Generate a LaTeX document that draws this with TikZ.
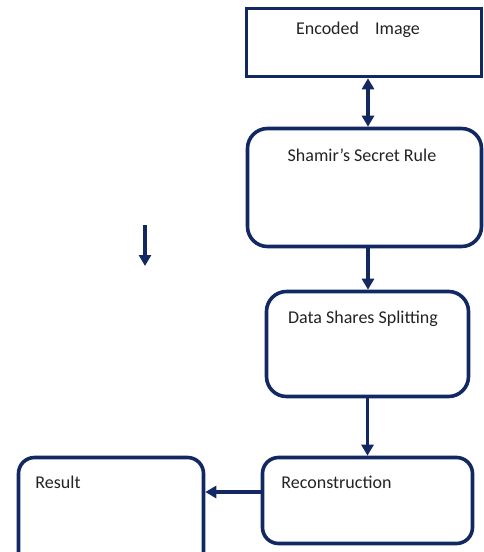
\documentclass[tikz,border=0pt]{standalone}
\usepackage{fontspec}
\setmainfont{Carlito}
\usetikzlibrary{arrows.meta,positioning}
\definecolor{navy}{RGB}{18,40,98}
\definecolor{txt}{RGB}{35,35,35}

\begin{document}
\begin{tikzpicture}[x=1pt, y=-1pt, >={Triangle[length=11pt,width=12pt]},
  box/.style={draw=navy, line width=3.6pt, minimum width=#1, inner sep=0pt},
  lbl/.style={text=txt, font=\fontsize{18}{21}\selectfont, inner sep=0pt},
  arr/.style={->, draw=navy, line width=3.4pt}]
  \useasboundingbox (0,0) rectangle (484,552);
  \clip (0,0) rectangle (484,552);

  % Encoded image (plain box)
  \node[box=235pt, minimum height=68pt] (enc) at (364,42.5) {};
  \node[lbl] (enct) at (358,30) {Encoded\hspace{16pt}Image};

  % Shamir's rule
  \node[box=234pt, minimum height=118pt, rounded corners=20pt] (sham) at (364.5,187.5) {};
  \node[lbl] (shamt) at (362,155) {Shamir’s Secret Rule};

  % Data shares
  \node[box=202pt, minimum height=105pt, rounded corners=20pt] (split) at (367.5,344) {};
  \node[lbl] (splitt) at (363,319) {Data Shares Splitting};

  % Reconstruction
  \node[box=210pt, minimum height=86pt, rounded corners=16pt] (recon) at (367.5,500.5) {};
  \node[lbl] (recont) at (336.5,482) {Reconstruction};

  % Result (runs off the bottom)
  \node[box=185pt, minimum height=110pt, rounded corners=16pt] (res) at (111,512.5) {};
  \node[lbl] (rest) at (58,482) {Result};

  % Arrows
  \draw[arr, <->] ([xshift=4pt]enc.south) -- ([xshift=3.5pt]sham.north);
  \draw[arr] ([xshift=3.5pt]sham.south) -- ([xshift=0.5pt]split.north);
  \draw[arr] (split.south) -- (recon.north);
  \coordinate (rw) at ([yshift=8.5pt]recon.west);
  \draw[arr] (rw) -- (rw -| res.east);

  % lone arrow on the left
  \coordinate (s1) at (145,225);
  \coordinate (s2) at (145,266);
  \draw[arr] (s1) -- (s2);
\end{tikzpicture}
\end{document}
